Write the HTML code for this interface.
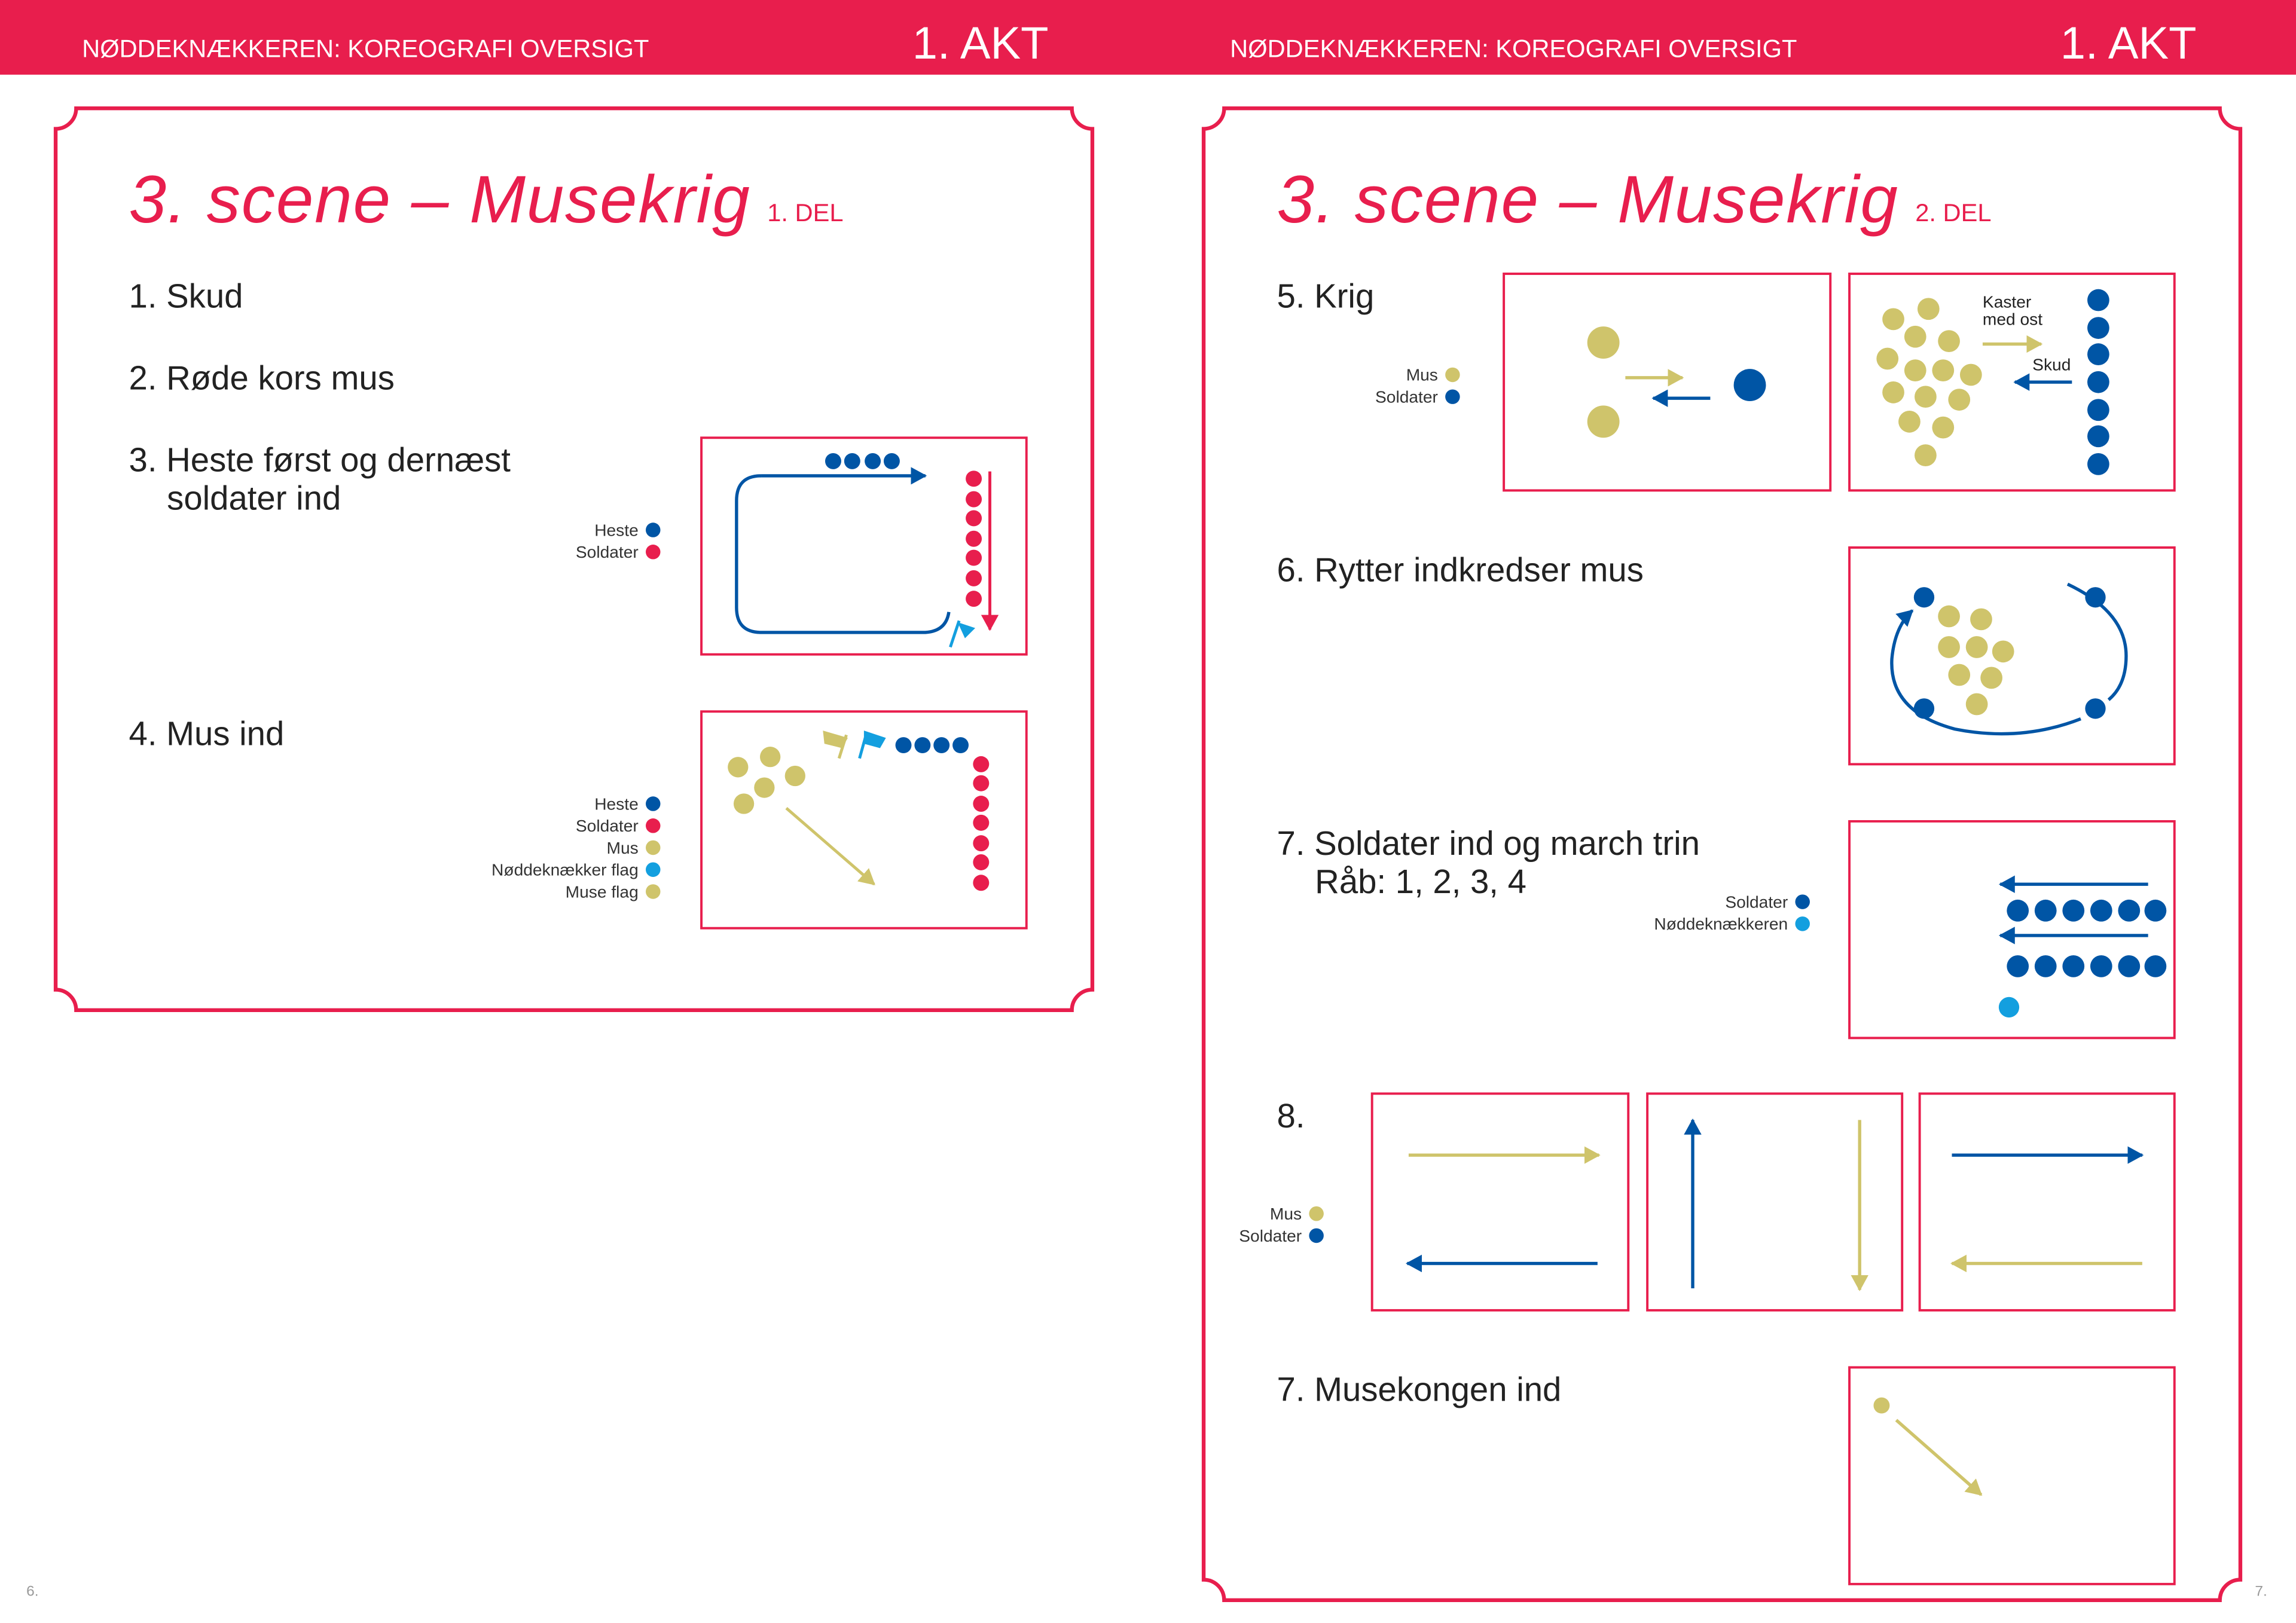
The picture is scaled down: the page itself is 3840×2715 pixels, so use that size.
<!DOCTYPE html>
<html><head><meta charset="utf-8"><style>
html,body{margin:0;padding:0;background:#fff;}
svg{display:block;}
text{font-family:"Liberation Sans",sans-serif;}
</style></head><body>
<svg width="3840" height="2715" viewBox="0 0 1568 1108.6" preserveAspectRatio="none" xmlns="http://www.w3.org/2000/svg">
<defs>
<marker id="mb" markerUnits="userSpaceOnUse" markerWidth="14" markerHeight="14" refX="10" refY="6" orient="auto"><path d="M0,0 L11,6 L0,12 Z" fill="#0055a5"/></marker>
<marker id="mg" markerUnits="userSpaceOnUse" markerWidth="14" markerHeight="14" refX="10" refY="6" orient="auto"><path d="M0,0 L11,6 L0,12 Z" fill="#cfc46b"/></marker>
<marker id="mr" markerUnits="userSpaceOnUse" markerWidth="14" markerHeight="14" refX="10" refY="6" orient="auto"><path d="M0,0 L11,6 L0,12 Z" fill="#e81e4d"/></marker>
</defs>
<rect width="1568" height="1108.6" fill="#fff"/>
<rect x="0" y="0" width="1568" height="51" fill="#e81e4d"/>
<g fill="#fff">
<text x="56" y="39" font-size="17">NØDDEKNÆKKEREN: KOREOGRAFI OVERSIGT</text>
<text x="623" y="40" font-size="31">1. AKT</text>
<text x="840" y="39" font-size="17">NØDDEKNÆKKEREN: KOREOGRAFI OVERSIGT</text>
<text x="1407" y="40" font-size="31">1. AKT</text>
</g>
<g fill="none" stroke="#e81e4d" stroke-width="2.6">
<path d="M52,74 H732 A14,14 0 0 0 746,88 V676 A14,14 0 0 0 732,690 H52 A14,14 0 0 0 38,676 V88 A14,14 0 0 0 52,74 Z"/>
<path d="M836,74 H1516 A14,14 0 0 0 1530,88 V1079 A14,14 0 0 0 1516,1093 H836 A14,14 0 0 0 822,1079 V88 A14,14 0 0 0 836,74 Z"/>
</g>
<g fill="#999" font-size="10"><text x="18" y="1090">6.</text><text x="1540" y="1090">7.</text></g>

<!-- LEFT PAGE -->
<text x="88" y="152" font-size="46" fill="#e81e4d" font-style="italic" textLength="424" lengthAdjust="spacing">3. scene – Musekrig</text>
<text x="524" y="151" font-size="17" fill="#e81e4d">1. DEL</text>
<g fill="#222" font-size="23">
<text x="88" y="210">1. Skud</text>
<text x="88" y="266">2. Røde kors mus</text>
<text x="88" y="322">3. Heste først og dernæst</text>
<text x="114" y="348">soldater ind</text>
<text x="88" y="509">4. Mus ind</text>
</g>
<g font-size="11.5" fill="#333" text-anchor="end">
<text x="436" y="366">Heste</text><text x="436" y="381">Soldater</text>
<text x="436" y="553">Heste</text><text x="436" y="568">Soldater</text><text x="436" y="583">Mus</text><text x="436" y="598">Nøddeknækker flag</text><text x="436" y="613">Muse flag</text>
</g>
<circle cx="446" cy="362" r="5" fill="#0055a5"/><circle cx="446" cy="377" r="5" fill="#e81e4d"/>
<circle cx="446" cy="549" r="5" fill="#0055a5"/><circle cx="446" cy="564" r="5" fill="#e81e4d"/><circle cx="446" cy="579" r="5" fill="#cfc46b"/><circle cx="446" cy="594" r="5" fill="#139fdf"/><circle cx="446" cy="609" r="5" fill="#cfc46b"/>

<g fill="none" stroke="#e81e4d" stroke-width="1.6">
<rect x="479" y="299" width="222" height="148"/>
<rect x="479" y="486" width="222" height="148"/>
<rect x="1027" y="187" width="223" height="148"/>
<rect x="1263" y="187" width="222" height="148"/>
<rect x="1263" y="374" width="222" height="148"/>
<rect x="1263" y="561" width="222" height="148"/>
<rect x="937" y="747" width="175" height="148"/>
<rect x="1125" y="747" width="174" height="148"/>
<rect x="1311" y="747" width="174" height="148"/>
<rect x="1263" y="934" width="222" height="148"/>
</g>

<!-- box1 -->
<path d="M520,325 Q503,325 503,342 V415 Q503,432 520,432 H630 Q646,432 648,418" fill="none" stroke="#0055a5" stroke-width="2.2"/>
<line x1="520" y1="325" x2="632" y2="325" stroke="#0055a5" stroke-width="2.2" marker-end="url(#mb)"/>
<g fill="#0055a5"><circle cx="569" cy="315" r="5.5"/><circle cx="582" cy="315" r="5.5"/><circle cx="596" cy="315" r="5.5"/><circle cx="609" cy="315" r="5.5"/></g>
<g fill="#e81e4d"><circle cx="665" cy="327" r="5.5"/><circle cx="665" cy="341" r="5.5"/><circle cx="665" cy="354" r="5.5"/><circle cx="665" cy="368" r="5.5"/><circle cx="665" cy="381" r="5.5"/><circle cx="665" cy="395" r="5.5"/><circle cx="665" cy="409" r="5.5"/></g>
<line x1="676" y1="322" x2="676" y2="430" stroke="#e81e4d" stroke-width="2" marker-end="url(#mr)"/>
<path d="M654,425 L666,429 L659,436 Z" fill="#139fdf"/><line x1="649" y1="442" x2="655" y2="424" stroke="#139fdf" stroke-width="2"/>

<!-- box2 -->
<g fill="#cfc46b"><circle cx="504" cy="524" r="7"/><circle cx="526" cy="517" r="7"/><circle cx="543" cy="530" r="7"/><circle cx="522" cy="538" r="7"/><circle cx="508" cy="549" r="7"/></g>
<line x1="537" y1="552" x2="597" y2="604" stroke="#cfc46b" stroke-width="2" marker-end="url(#mg)"/>
<path d="M562,499 L579,504 L575,511 L563,508 Z" fill="#cfc46b"/><line x1="573" y1="518" x2="578" y2="502" stroke="#cfc46b" stroke-width="2"/>
<path d="M590,499 L605,504 L601,511 L590,508 Z" fill="#139fdf"/><line x1="587" y1="518" x2="592" y2="500" stroke="#139fdf" stroke-width="2"/>
<g fill="#0055a5"><circle cx="617" cy="509" r="5.5"/><circle cx="630" cy="509" r="5.5"/><circle cx="643" cy="509" r="5.5"/><circle cx="656" cy="509" r="5.5"/></g>
<g fill="#e81e4d"><circle cx="670" cy="522" r="5.5"/><circle cx="670" cy="535" r="5.5"/><circle cx="670" cy="549" r="5.5"/><circle cx="670" cy="562" r="5.5"/><circle cx="670" cy="576" r="5.5"/><circle cx="670" cy="589" r="5.5"/><circle cx="670" cy="603" r="5.5"/></g>

<!-- RIGHT PAGE -->
<text x="872" y="152" font-size="46" fill="#e81e4d" font-style="italic" textLength="424" lengthAdjust="spacing">3. scene – Musekrig</text>
<text x="1308" y="151" font-size="17" fill="#e81e4d">2. DEL</text>
<g fill="#222" font-size="23">
<text x="872" y="210">5. Krig</text>
<text x="872" y="397">6. Rytter indkredser mus</text>
<text x="872" y="584">7. Soldater ind og march trin</text>
<text x="898" y="610">Råb: 1, 2, 3, 4</text>
<text x="872" y="770">8.</text>
<text x="872" y="957">7. Musekongen ind</text>
</g>
<g font-size="11.5" fill="#333" text-anchor="end">
<text x="982" y="260">Mus</text><text x="982" y="275">Soldater</text>
<text x="1221" y="620">Soldater</text><text x="1221" y="635">Nøddeknækkeren</text>
<text x="889" y="833">Mus</text><text x="889" y="848">Soldater</text>
</g>
<circle cx="992" cy="256" r="5" fill="#cfc46b"/><circle cx="992" cy="271" r="5" fill="#0055a5"/>
<circle cx="1231" cy="616" r="5" fill="#0055a5"/><circle cx="1231" cy="631" r="5" fill="#139fdf"/>
<circle cx="899" cy="829" r="5" fill="#cfc46b"/><circle cx="899" cy="844" r="5" fill="#0055a5"/>

<!-- box A -->
<circle cx="1095" cy="234" r="11" fill="#cfc46b"/><circle cx="1095" cy="288" r="11" fill="#cfc46b"/>
<line x1="1110" y1="258" x2="1149" y2="258" stroke="#cfc46b" stroke-width="2.2" marker-end="url(#mg)"/>
<line x1="1168" y1="272" x2="1129" y2="272" stroke="#0055a5" stroke-width="2.2" marker-end="url(#mb)"/>
<circle cx="1195" cy="263" r="11" fill="#0055a5"/>

<!-- box B -->
<g fill="#cfc46b">
<circle cx="1293" cy="218" r="7.5"/><circle cx="1317" cy="211" r="7.5"/><circle cx="1308" cy="230" r="7.5"/><circle cx="1331" cy="233" r="7.5"/><circle cx="1289" cy="245" r="7.5"/><circle cx="1308" cy="253" r="7.5"/><circle cx="1327" cy="253" r="7.5"/><circle cx="1346" cy="256" r="7.5"/><circle cx="1293" cy="268" r="7.5"/><circle cx="1315" cy="271" r="7.5"/><circle cx="1338" cy="273" r="7.5"/><circle cx="1304" cy="288" r="7.5"/><circle cx="1327" cy="292" r="7.5"/><circle cx="1315" cy="311" r="7.5"/>
</g>
<g fill="#0055a5"><circle cx="1433" cy="205" r="7.5"/><circle cx="1433" cy="224" r="7.5"/><circle cx="1433" cy="242" r="7.5"/><circle cx="1433" cy="261" r="7.5"/><circle cx="1433" cy="280" r="7.5"/><circle cx="1433" cy="298" r="7.5"/><circle cx="1433" cy="317" r="7.5"/></g>
<g font-size="11.5" fill="#222"><text x="1354" y="210">Kaster</text><text x="1354" y="222">med ost</text><text x="1388" y="253">Skud</text></g>
<line x1="1354" y1="235" x2="1394" y2="235" stroke="#cfc46b" stroke-width="2.2" marker-end="url(#mg)"/>
<line x1="1415" y1="261" x2="1376" y2="261" stroke="#0055a5" stroke-width="2.2" marker-end="url(#mb)"/>

<!-- box C -->
<path d="M1421,491 Q1380,507 1335,498 Q1290,486 1292,450 Q1294,428 1306,417" fill="none" stroke="#0055a5" stroke-width="2.2" marker-end="url(#mb)"/>
<path d="M1412,399 Q1452,418 1452,448 Q1452,468 1440,478" fill="none" stroke="#0055a5" stroke-width="2.2"/>
<g fill="#0055a5"><circle cx="1314" cy="408" r="7"/><circle cx="1431" cy="408" r="7"/><circle cx="1314" cy="484" r="7"/><circle cx="1431" cy="484" r="7"/></g>
<g fill="#cfc46b"><circle cx="1331" cy="421" r="7.5"/><circle cx="1353" cy="423" r="7.5"/><circle cx="1331" cy="442" r="7.5"/><circle cx="1350" cy="442" r="7.5"/><circle cx="1368" cy="445" r="7.5"/><circle cx="1338" cy="461" r="7.5"/><circle cx="1360" cy="463" r="7.5"/><circle cx="1350" cy="481" r="7.5"/></g>

<!-- box D -->
<line x1="1467" y1="604" x2="1366" y2="604" stroke="#0055a5" stroke-width="2.2" marker-end="url(#mb)"/>
<line x1="1467" y1="639" x2="1366" y2="639" stroke="#0055a5" stroke-width="2.2" marker-end="url(#mb)"/>
<g fill="#0055a5"><circle cx="1378" cy="622" r="7.5"/><circle cx="1397" cy="622" r="7.5"/><circle cx="1416" cy="622" r="7.5"/><circle cx="1435" cy="622" r="7.5"/><circle cx="1454" cy="622" r="7.5"/><circle cx="1472" cy="622" r="7.5"/>
<circle cx="1378" cy="660" r="7.5"/><circle cx="1397" cy="660" r="7.5"/><circle cx="1416" cy="660" r="7.5"/><circle cx="1435" cy="660" r="7.5"/><circle cx="1454" cy="660" r="7.5"/><circle cx="1472" cy="660" r="7.5"/></g>
<circle cx="1372" cy="688" r="7" fill="#139fdf"/>

<!-- boxes 8 -->
<line x1="962" y1="789" x2="1092" y2="789" stroke="#cfc46b" stroke-width="2.2" marker-end="url(#mg)"/>
<line x1="1091" y1="863" x2="961" y2="863" stroke="#0055a5" stroke-width="2.2" marker-end="url(#mb)"/>
<line x1="1156" y1="880" x2="1156" y2="765" stroke="#0055a5" stroke-width="2.2" marker-end="url(#mb)"/>
<line x1="1270" y1="765" x2="1270" y2="881" stroke="#cfc46b" stroke-width="2.2" marker-end="url(#mg)"/>
<line x1="1333" y1="789" x2="1463" y2="789" stroke="#0055a5" stroke-width="2.2" marker-end="url(#mb)"/>
<line x1="1463" y1="863" x2="1333" y2="863" stroke="#cfc46b" stroke-width="2.2" marker-end="url(#mg)"/>

<!-- box H -->
<circle cx="1285" cy="960" r="5.5" fill="#cfc46b"/>
<line x1="1295" y1="970" x2="1353" y2="1021" stroke="#cfc46b" stroke-width="2.2" marker-end="url(#mg)"/>
</svg>
</body></html>
